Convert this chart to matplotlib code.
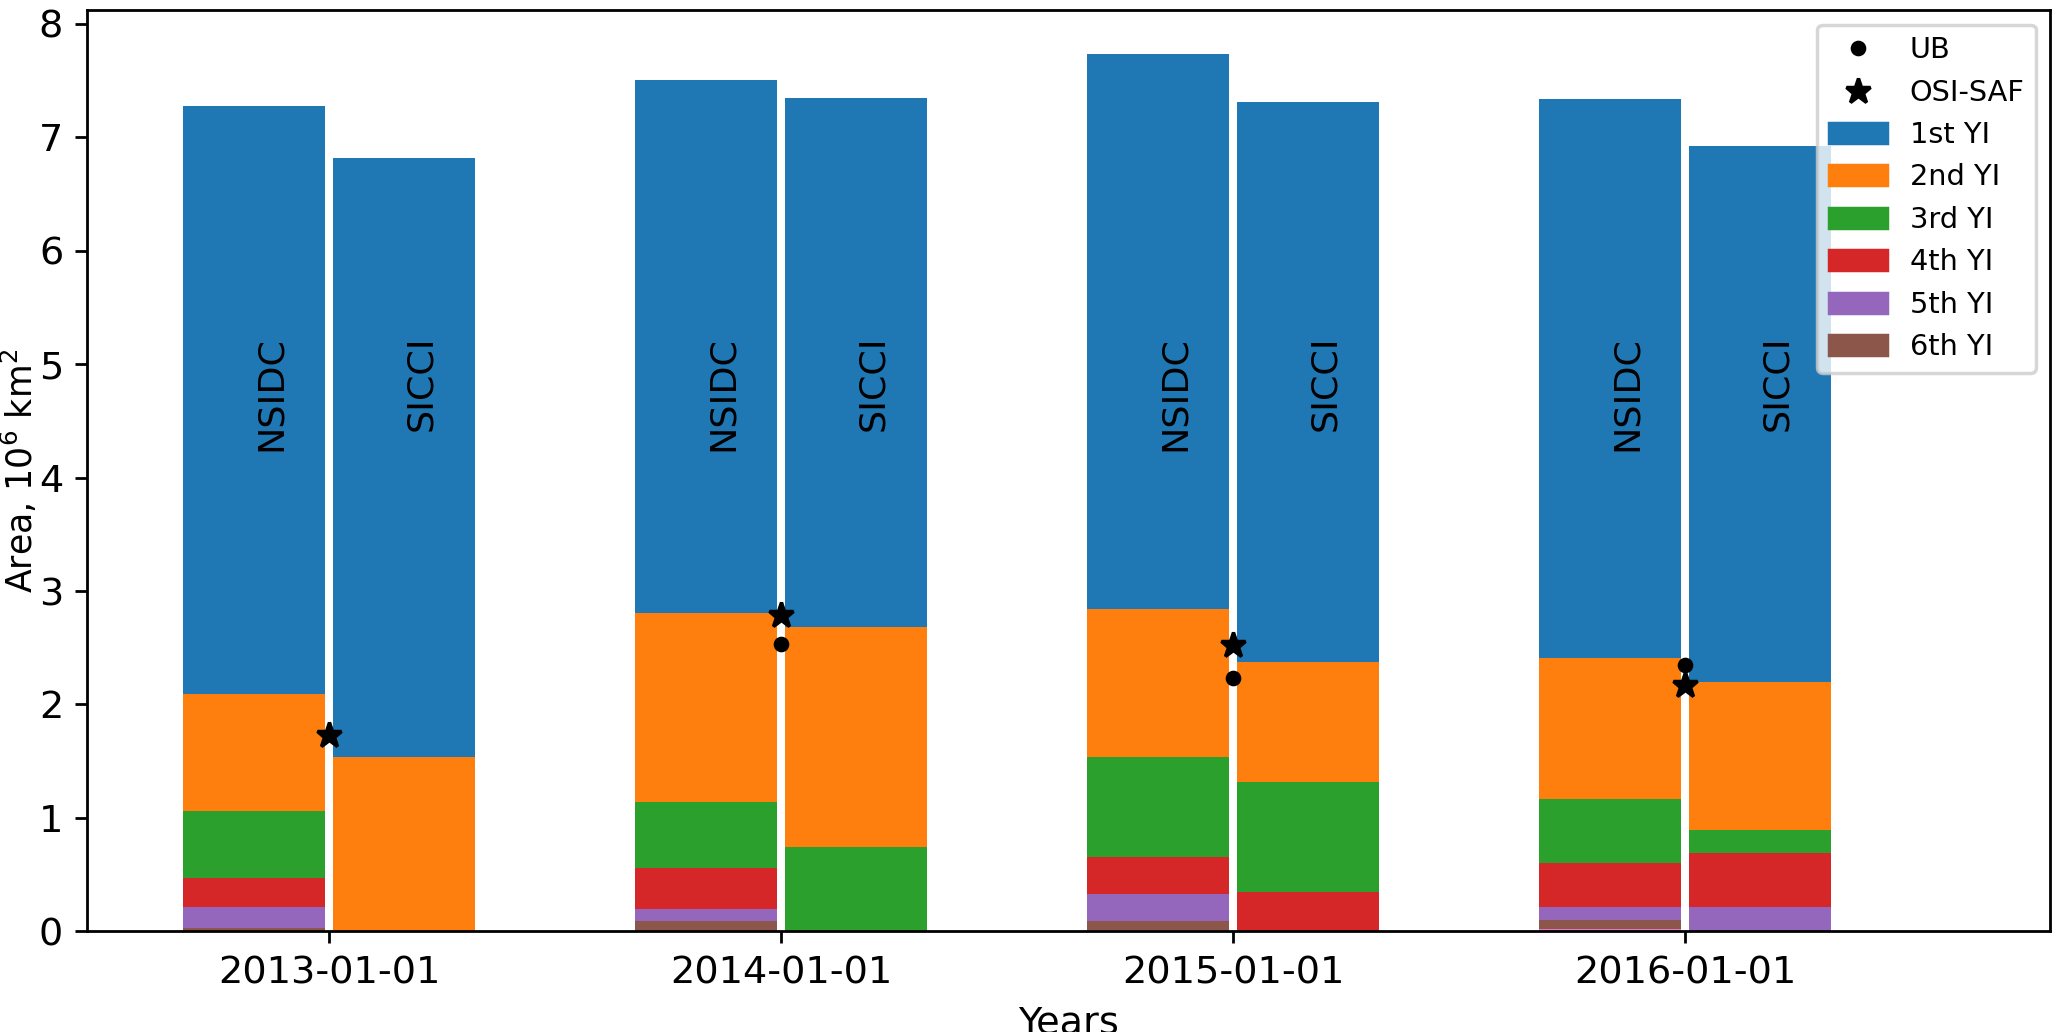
import datetime as dt

import numpy as np
import matplotlib
matplotlib.use("Agg")
import matplotlib.pyplot as plt
import matplotlib.dates as mdates
from matplotlib.lines import Line2D
from matplotlib.patches import Patch

# ---- data (10^6 km^2) ----
years = [2013, 2014, 2015, 2016]
layers = ["1st YI", "2nd YI", "3rd YI", "4th YI", "5th YI", "6th YI", "7th YI"]

# NSIDC, per ice-age class
nsidc_1st = [5.19, 4.70, 4.89, 4.93]
nsidc_2nd = [1.03, 1.67, 1.31, 1.24]
nsidc_3rd = [0.59, 0.58, 0.88, 0.57]
nsidc_4th = [0.26, 0.36, 0.33, 0.39]
nsidc_5th = [0.18, 0.11, 0.23, 0.11]
nsidc_6th = [0.03, 0.09, 0.08, 0.08]
nsidc_7th = [0.00, 0.00, 0.015, 0.02]

# SICCI
sicci_1st = [5.28, 4.67, 4.94, 4.72]
sicci_2nd = [1.54, 1.94, 1.05, 1.31]
sicci_3rd = [0.00, 0.74, 0.97, 0.20]
sicci_4th = [0.00, 0.00, 0.35, 0.48]
sicci_5th = [0.00, 0.00, 0.00, 0.21]
sicci_6th = [0.00, 0.00, 0.00, 0.00]
sicci_7th = [0.00, 0.00, 0.00, 0.00]

ub = [np.nan, 2.53, 2.23, 2.35]
osisaf = [1.73, 2.79, 2.52, 2.17]

colors = ["C0", "C1", "C2", "C3", "C4", "C5", "C6"]

plt.rcParams["font.family"] = ["DejaVu Sans"]

dates = [dt.datetime(y, 1, 1) for y in years]
x = mdates.date2num(dates)
W = 115.0   # bar width [days]
GAP = 3.0   # half gap around the date

fig = plt.figure(figsize=(2067 / 250, 1032 / 250), dpi=250)
ax = fig.add_axes([0.0423, 0.0976, 0.9497, 0.8924])

nsidc = [nsidc_1st, nsidc_2nd, nsidc_3rd, nsidc_4th, nsidc_5th, nsidc_6th, nsidc_7th]
sicci = [sicci_1st, sicci_2nd, sicci_3rd, sicci_4th, sicci_5th, sicci_6th, sicci_7th]

# stack from the oldest class at the bottom
for series, x0 in ((nsidc, x - GAP - W), (sicci, x + GAP)):
    bottom = np.zeros(len(years))
    for i in range(len(layers) - 1, -1, -1):
        v = np.array(series[i])
        ax.bar(x0, v, width=W, bottom=bottom, align="edge", color=colors[i])
        bottom += v

ax.plot(x, ub, "k.", ms=7, zorder=5)
ax.plot(x, osisaf, "k*", ms=7.5, zorder=5)

for xi in x:
    ax.text(xi - GAP - W / 2, 5.25, "NSIDC", rotation=90, ha="left", va="top", fontsize=10.5)
    ax.text(xi + GAP + W / 2, 5.25, "SICCI", rotation=90, ha="left", va="top", fontsize=10.5)

ax.set_xlim(x[0] - 195, x[-1] + 295)
ax.set_ylim(0, 8.12)
ax.set_xticks(x)
ax.xaxis.set_major_formatter(mdates.DateFormatter("%Y-%m-%d"))
ax.tick_params(labelsize=11)
ax.set_xlabel("Years", fontsize=11)
ax.set_ylabel("Area, 10$^6$ km$^2$", fontsize=10)
ax.yaxis.set_label_coords(-0.024, 0.5)

handles = [Line2D([], [], color="k", marker=".", ls="", ms=7),
           Line2D([], [], color="k", marker="*", ls="", ms=7.5)]
handles += [Patch(color=colors[i]) for i in range(6)]
labels = ["UB", "OSI-SAF"] + layers[:6]
ax.legend(handles, labels, loc="upper right", fontsize=8.3)

fig.savefig("out.png", dpi=250)
